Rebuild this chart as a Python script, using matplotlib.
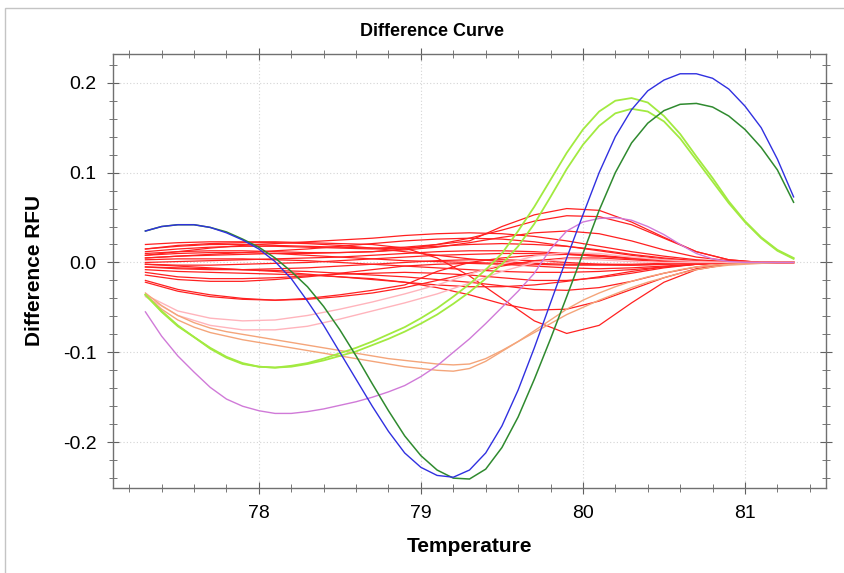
import numpy as np
import matplotlib
matplotlib.use("Agg")
import matplotlib.pyplot as plt
from matplotlib.ticker import MultipleLocator, FormatStrFormatter
from matplotlib.patches import Rectangle

plt.rcParams['font.family'] = ['Liberation Sans', 'DejaVu Sans']
plt.rcParams['axes.unicode_minus'] = False

# temperature grid (0.1 C steps) used by the strong curves
temps = [77.3, 77.4, 77.5, 77.6, 77.7, 77.8, 77.9, 78.0, 78.1, 78.2,
         78.3, 78.4, 78.5, 78.6, 78.7, 78.8, 78.9, 79.0, 79.1, 79.2,
         79.3, 79.4, 79.5, 79.6, 79.7, 79.8, 79.9, 80.0, 80.1, 80.2,
         80.3, 80.4, 80.5, 80.6, 80.7, 80.8, 80.9, 81.0, 81.1, 81.2, 81.3]
# coarser grid (0.2 C) for the red / pink bundle
temps_red = [77.3, 77.5, 77.7, 77.9, 78.1, 78.3, 78.5, 78.7, 78.9, 79.1, 79.3,
             79.5, 79.7, 79.9, 80.1, 80.3, 80.5, 80.7, 80.9, 81.1, 81.3]

blue = [0.035, 0.040, 0.042, 0.042, 0.039, 0.033, 0.025, 0.015, 0.001, -0.018,
        -0.043, -0.070, -0.100, -0.130, -0.160, -0.188, -0.212, -0.228, -0.237, -0.239,
        -0.231, -0.212, -0.182, -0.142, -0.095, -0.045, 0.005, 0.053, 0.100, 0.140,
        0.170, 0.191, 0.203, 0.210, 0.210, 0.205, 0.193, 0.174, 0.150, 0.115, 0.073]
dark_green = [0.035, 0.040, 0.042, 0.042, 0.039, 0.034, 0.026, 0.017, 0.005, -0.010,
              -0.027, -0.049, -0.075, -0.104, -0.135, -0.165, -0.193, -0.215, -0.231, -0.240,
              -0.241, -0.230, -0.206, -0.172, -0.130, -0.085, -0.038, 0.010, 0.058, 0.100,
              0.133, 0.155, 0.169, 0.176, 0.177, 0.173, 0.163, 0.148, 0.128, 0.103, 0.067]
lime_a = [-0.036, -0.055, -0.071, -0.083, -0.096, -0.106, -0.113, -0.116, -0.117, -0.115,
          -0.112, -0.107, -0.101, -0.095, -0.088, -0.080, -0.072, -0.062, -0.051, -0.038,
          -0.024, -0.008, 0.010, 0.035, 0.062, 0.092, 0.122, 0.148, 0.168, 0.180,
          0.183, 0.178, 0.163, 0.143, 0.118, 0.094, 0.068, 0.046, 0.028, 0.014, 0.005]
lime_b = [-0.036, -0.054, -0.070, -0.083, -0.095, -0.105, -0.112, -0.116, -0.117, -0.116,
          -0.113, -0.109, -0.104, -0.099, -0.092, -0.085, -0.077, -0.068, -0.058, -0.046,
          -0.033, -0.018, -0.002, 0.018, 0.043, 0.073, 0.104, 0.131, 0.152, 0.166,
          0.171, 0.168, 0.157, 0.138, 0.114, 0.090, 0.066, 0.045, 0.027, 0.013, 0.004]
violet = [-0.055, -0.082, -0.104, -0.122, -0.139, -0.152, -0.160, -0.165, -0.168, -0.168,
          -0.166, -0.163, -0.159, -0.155, -0.150, -0.144, -0.137, -0.127, -0.115, -0.100,
          -0.085, -0.068, -0.050, -0.032, -0.012, 0.015, 0.035, 0.045, 0.049, 0.050,
          0.047, 0.040, 0.031, 0.020, 0.010, 0.004, 0.001, 0.0, 0.0, 0.0, 0.0]
orange_a = [-0.034, -0.048, -0.059, -0.067, -0.073, -0.077, -0.080, -0.083, -0.086, -0.089,
            -0.092, -0.095, -0.098, -0.101, -0.104, -0.107, -0.109, -0.111, -0.113, -0.114,
            -0.113, -0.107, -0.098, -0.088, -0.078, -0.068, -0.058, -0.050, -0.042, -0.035,
            -0.028, -0.022, -0.017, -0.012, -0.008, -0.005, -0.003, -0.002, -0.001, 0.0, 0.0]
orange_b = [-0.036, -0.052, -0.064, -0.072, -0.078, -0.082, -0.086, -0.089, -0.092, -0.095,
            -0.098, -0.101, -0.104, -0.107, -0.110, -0.113, -0.116, -0.118, -0.120, -0.121,
            -0.118, -0.110, -0.099, -0.088, -0.076, -0.064, -0.052, -0.042, -0.034, -0.027,
            -0.021, -0.016, -0.012, -0.008, -0.005, -0.003, -0.002, -0.001, 0.0, 0.0, 0.0]

pink_a = [-0.036, -0.054, -0.062, -0.065, -0.064, -0.059, -0.052, -0.044, -0.035, -0.025,
          -0.013, -0.002, 0.007, 0.011, 0.010, 0.006, 0.003, 0.001, 0.0, 0.0, 0.0]
pink_b = [-0.038, -0.059, -0.070, -0.075, -0.075, -0.071, -0.063, -0.054, -0.045, -0.035,
          -0.023, -0.010, 0.0, 0.004, 0.003, 0.001, 0.0, 0.0, 0.0, 0.0, 0.0]

red_curves = [
    [0.015, 0.018, 0.020, 0.020, 0.019, 0.018, 0.017, 0.016, 0.017, 0.020, 0.024, 0.040, 0.053, 0.060, 0.058, 0.045, 0.028, 0.012, 0.003, 0.0, 0.0],
    [0.010, 0.012, 0.013, 0.013, 0.012, 0.011, 0.011, 0.012, 0.015, 0.020, 0.027, 0.036, 0.046, 0.052, 0.051, 0.042, 0.027, 0.012, 0.003, 0.0, 0.0],
    [0.008, 0.012, 0.016, 0.019, 0.021, 0.023, 0.025, 0.027, 0.030, 0.032, 0.033, 0.032, 0.029, 0.024, 0.018, 0.012, 0.007, 0.003, 0.001, 0.0, 0.0],
    [0.005, 0.007, 0.008, 0.009, 0.010, 0.010, 0.011, 0.012, 0.014, 0.017, 0.022, 0.028, 0.033, 0.035, 0.032, 0.024, 0.014, 0.006, 0.002, 0.0, 0.0],
    [0.020, 0.022, 0.023, 0.023, 0.023, 0.022, 0.021, 0.020, 0.016, 0.005, -0.015, -0.040, -0.065, -0.079, -0.070, -0.045, -0.022, -0.008, -0.002, 0.0, 0.0],
    [-0.008, -0.010, -0.011, -0.012, -0.013, -0.014, -0.016, -0.018, -0.022, -0.028, -0.036, -0.046, -0.053, -0.052, -0.043, -0.030, -0.017, -0.007, -0.002, 0.0, 0.0],
    [-0.020, -0.030, -0.036, -0.040, -0.042, -0.040, -0.036, -0.031, -0.025, -0.010, 0.000, 0.005, 0.008, 0.009, 0.007, 0.004, 0.002, 0.001, 0.0, 0.0, 0.0],
    [-0.022, -0.032, -0.038, -0.041, -0.042, -0.041, -0.038, -0.034, -0.028, -0.020, -0.012, -0.004, 0.002, 0.005, 0.005, 0.003, 0.001, 0.0, 0.0, 0.0, 0.0],
    [-0.005, -0.006, -0.007, -0.008, -0.009, -0.010, -0.012, -0.014, -0.016, -0.019, -0.022, -0.026, -0.030, -0.031, -0.028, -0.021, -0.012, -0.005, -0.001, 0.0, 0.0],
    [-0.011, -0.016, -0.018, -0.018, -0.017, -0.015, -0.013, -0.012, -0.011, -0.012, -0.014, -0.017, -0.020, -0.020, -0.017, -0.012, -0.006, -0.002, 0.0, 0.0, 0.0],
    [-0.014, -0.019, -0.021, -0.021, -0.019, -0.016, -0.012, -0.008, -0.004, -0.002, -0.001, -0.002, -0.004, -0.006, -0.007, -0.006, -0.004, -0.002, 0.0, 0.0, 0.0],
    [0.012, 0.015, 0.017, 0.018, 0.018, 0.017, 0.016, 0.015, 0.016, 0.018, 0.020, 0.021, 0.020, 0.018, 0.014, 0.009, 0.005, 0.002, 0.0, 0.0, 0.0],
    [0.0, 0.001, 0.002, 0.003, 0.004, 0.005, 0.006, 0.008, 0.010, 0.012, 0.013, 0.013, 0.012, 0.010, 0.008, 0.005, 0.003, 0.001, 0.0, 0.0, 0.0],
    [0.003, 0.004, 0.004, 0.004, 0.003, 0.002, 0.0, -0.002, -0.004, -0.006, -0.008, -0.010, -0.011, -0.011, -0.010, -0.008, -0.005, -0.002, 0.0, 0.0, 0.0],
    [0.015, 0.019, 0.021, 0.022, 0.022, 0.021, 0.019, 0.016, 0.012, 0.008, 0.004, 0.001, -0.001, -0.002, -0.002, -0.002, -0.001, 0.0, 0.0, 0.0, 0.0],
    [-0.002, -0.003, -0.003, -0.002, -0.001, 0.0, 0.002, 0.004, 0.006, 0.008, 0.009, 0.010, 0.010, 0.009, 0.007, 0.005, 0.003, 0.001, 0.0, 0.0, 0.0],
    [0.005, 0.007, 0.009, 0.011, 0.013, 0.015, 0.018, 0.021, 0.024, 0.026, 0.027, 0.026, 0.023, 0.018, 0.013, 0.008, 0.004, 0.001, 0.0, 0.0, 0.0],
    [-0.005, -0.007, -0.008, -0.008, -0.007, -0.006, -0.004, -0.002, 0.0, 0.002, 0.003, 0.003, 0.002, 0.0, -0.002, -0.003, -0.002, -0.001, 0.0, 0.0, 0.0],
    [0.008, 0.010, 0.011, 0.011, 0.010, 0.008, 0.006, 0.004, 0.002, 0.001, 0.0, -0.001, -0.002, -0.003, -0.003, -0.003, -0.002, -0.001, 0.0, 0.0, 0.0],
    [-0.002, -0.004, -0.006, -0.008, -0.010, -0.013, -0.016, -0.019, -0.022, -0.025, -0.027, -0.027, -0.025, -0.021, -0.016, -0.010, -0.005, -0.002, 0.0, 0.0, 0.0],
]

fig = plt.figure(figsize=(8.45, 5.73), dpi=100)
# light grey window border
fig.patches.append(Rectangle((5/845, -0.05), 2, 1 - 8/573 + 0.05, transform=fig.transFigure,
                             fill=False, edgecolor="#c4c4c4", lw=1.0))
ax = fig.add_axes([113/845, 1 - 488/573, 713/845, 434/573])

for r in red_curves:
    ax.plot(temps_red, r, color="#ff2020", lw=0.9)
ax.plot(temps_red, pink_a, color="#ffb4bc", lw=1.0)
ax.plot(temps_red, pink_b, color="#ffb4bc", lw=1.0)
ax.plot(temps, orange_a, color="#f4a57a", lw=1.0)
ax.plot(temps, orange_b, color="#f4a57a", lw=1.0)
ax.plot(temps, violet, color="#d07ad8", lw=1.0)
ax.plot(temps, lime_a, color="#a2ea40", lw=1.3)
ax.plot(temps, lime_b, color="#a2ea40", lw=1.3)
ax.plot(temps, dark_green, color="#2f8a2f", lw=1.1)
ax.plot(temps, blue, color="#3030e0", lw=1.0)

ax.set_xlim(77.1, 81.5)
ax.set_ylim(-0.251, 0.232)
ax.xaxis.set_major_locator(MultipleLocator(1))
ax.xaxis.set_minor_locator(MultipleLocator(0.2))
ax.yaxis.set_major_locator(MultipleLocator(0.1))
ax.yaxis.set_minor_locator(MultipleLocator(0.02))
ax.xaxis.set_major_formatter(FormatStrFormatter("%d"))
ax.yaxis.set_major_formatter(FormatStrFormatter("%.1f"))

ax.grid(True, which="major", color="#d4d4d4", linestyle=(0, (1, 2)), lw=0.8)
ax.set_axisbelow(True)
for s in ax.spines.values():
    s.set_color("#707070")
    s.set_linewidth(1.0)
ax.tick_params(which="both", direction="inout", top=True, right=True,
               color="#606060", labelsize=14, pad=8)
ax.tick_params(which="major", length=8)
ax.tick_params(which="minor", length=6)

ax.set_xlabel("Temperature", fontsize=15, fontweight="bold")
ax.set_ylabel("Difference RFU", fontsize=15, fontweight="bold")
ax.xaxis.set_label_coords(0.5, (488 - 537) / 434)
ax.yaxis.set_label_coords((44 - 113) / 713, 0.5)
fig.text(432/845, 1 - 32/573, "Difference Curve", ha="center", va="center",
         fontsize=13, fontweight="bold")

fig.savefig("out.png", dpi=100)
